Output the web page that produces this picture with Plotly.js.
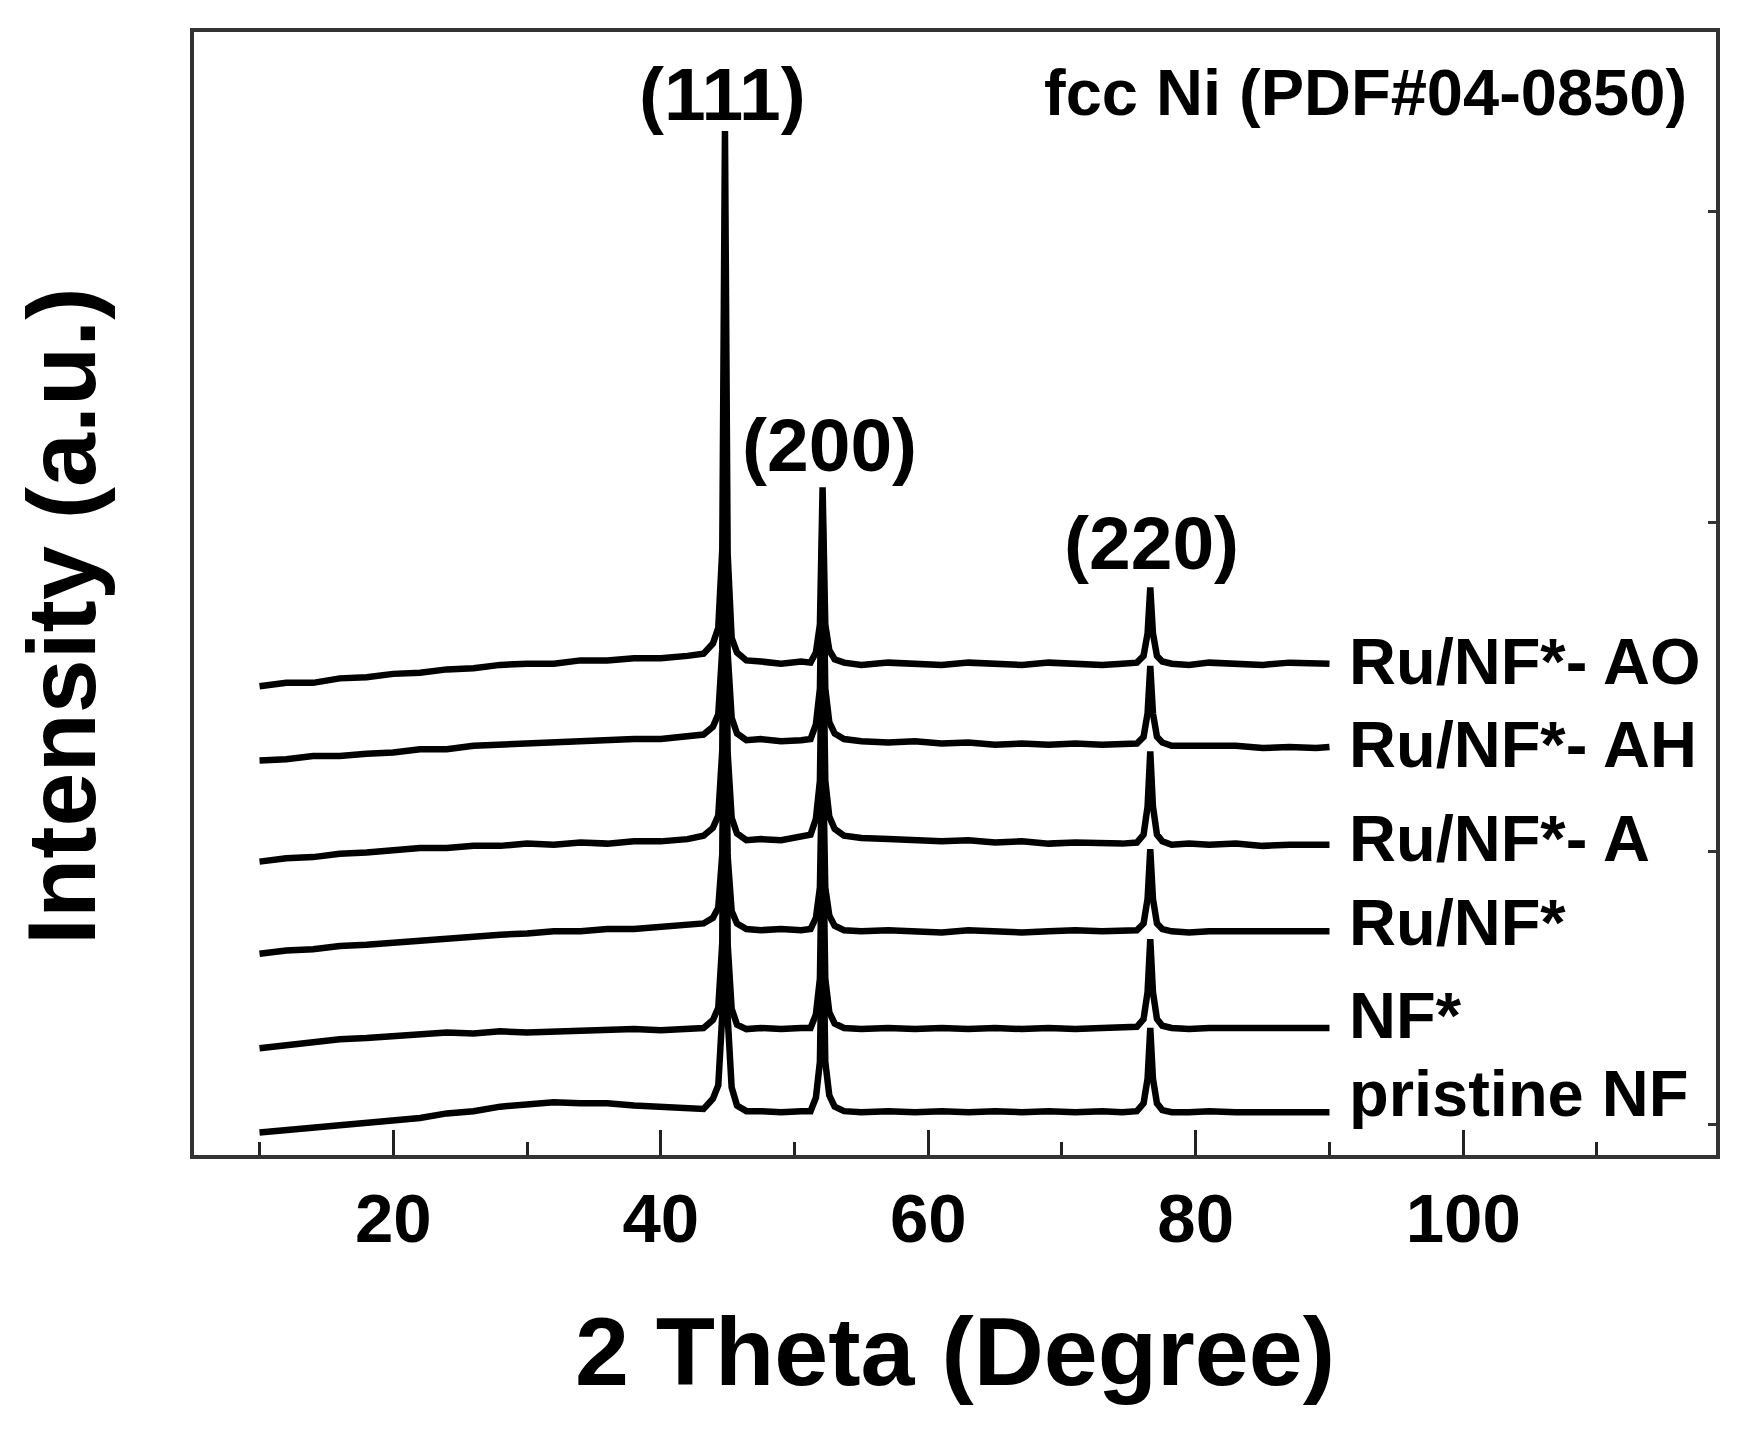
<!DOCTYPE html>
<html>
<head>
<meta charset="utf-8">
<script src="https://cdn.plot.ly/plotly-3.0.1.min.js"></script>
<style>
  html, body { margin: 0; padding: 0; background: #ffffff; }
  #chart { width: 1764px; height: 1436px; }
</style>
</head>
<body>
<div id="chart"></div>
<script>
// 2 Theta (degree) sample positions shared by all patterns
const twoTheta = [10,12,14,16,18,20,22,24,26,28,30,32,34,36,38,40,42,43.2,
  43.9,44.3,44.6,44.8,45.0,45.3,45.7,46.4,47.5,49,50.5,51.2,
  51.6,51.9,52.1,52.3,52.6,53.0,53.7,55,57,59,61,63,65,67,69,71,73,74.5,
  75.6,76.1,76.4,76.6,76.8,77.1,77.5,78.2,79.5,81,83,85,87,89,90];

// Intensities (a.u., stacked with offsets as in the figure)
const ruNfAO = [417,420,420,424,425,428,429,432,433,436,437,437,440,440,442,442,444,446,
  455,469,539,911,535,460,447,440,439,437,439,438,
  447,472,594,472,449,441,438,436,438,437,436,438,437,436,438,437,436,437,
  438,444,464,505,464,444,439,437,436,438,437,436,438,437,437];
const ruNfAH = [351,352,355,355,357,358,361,361,364,365,367,367,369,369,370,370,372,374,
  381,392,450,751,447,389,375,369,370,368,369,370,
  383,415,571,415,385,375,370,368,367,368,366,367,365,366,365,366,365,365,
  366,372,393,435,393,372,367,364,364,363,364,362,363,362,363];
const ruNfA = [261,264,265,268,269,271,273,273,275,275,277,276,278,277,279,279,281,284,
  291,302,360,663,358,300,286,280,281,280,283,285,
  299,333,500,333,301,290,284,282,281,280,279,280,278,279,277,278,277,277,
  278,285,310,359,310,285,279,276,277,276,277,275,276,276,276];
const ruNf = [179,182,183,186,187,189,191,193,194,196,197,199,199,201,201,203,204,206,
  211,220,268,523,266,217,206,201,200,201,200,201,
  211,238,371,238,213,204,200,199,200,199,198,200,199,198,199,200,199,199,
  200,206,228,272,228,206,201,199,198,199,199,198,199,198,199];
const nfStar = [95,98,100,103,104,106,107,109,108,110,109,110,111,111,112,111,112,113,
  120,131,189,494,188,130,116,112,113,112,113,113,
  125,157,313,157,127,117,113,112,113,112,113,112,113,112,113,112,113,113,
  114,121,145,192,145,121,115,113,112,113,113,112,113,112,113];
const pristineNF = [20,22,25,26,29,30,33,37,39,43,45,47,46,46,44,43,41,41,
  50,62,125,461,123,60,44,39,39,38,39,39,
  51,83,239,83,53,43,39,38,39,38,39,38,39,38,39,38,39,38,
  39,46,68,113,68,46,40,38,38,39,38,38,39,38,38];

const seriesNames = ["pristine NF", "NF*", "Ru/NF*", "Ru/NF*- A", "Ru/NF*- AH", "Ru/NF*- AO"];
const seriesData = [pristineNF, nfStar, ruNf, ruNfA, ruNfAH, ruNfAO];
// label heights (a.u.) next to the right end of each pattern
const seriesLabelY = [55, 124, 207, 282, 365, 439];

const peakLabels = ["(111)", "(200)", "(220)"];
const peakLabelX = [44.6, 52.6, 76.7];
const peakLabelY = [944, 632, 544];

const xMajorTicks = [20, 40, 60, 80, 100];
const xMinorTicks = [10, 30, 50, 70, 90, 110];
const yTickVals = [27, 270, 563, 839];

const FONT = "Liberation Sans, Arial, Helvetica, sans-serif";

const traces = seriesData.map((ys, i) => ({
  type: "scatter",
  mode: "lines",
  name: seriesNames[i],
  x: twoTheta,
  y: ys,
  line: { color: "#000000", width: 6.5 },
  showlegend: false,
  hoverinfo: "skip"
}));

const annotations = [];
seriesNames.forEach((name, i) => {
  annotations.push({
    x: 91.3, y: seriesLabelY[i], xref: "x", yref: "y",
    text: "<b>" + name + "</b>", showarrow: false,
    xanchor: "left", yanchor: "middle",
    font: { family: FONT, size: 65, color: "#000" }
  });
});
peakLabels.forEach((t, i) => {
  annotations.push({
    x: peakLabelX[i], y: peakLabelY[i], xref: "x", yref: "y",
    text: "<b>" + t + "</b>", showarrow: false,
    xanchor: "center", yanchor: "middle",
    font: { family: FONT, size: 75, color: "#000" }
  });
});
annotations.push({
  x: 116.85, y: 945, xref: "x", yref: "y",
  text: "<b>fcc Ni (PDF#04-0850)</b>", showarrow: false,
  xanchor: "right", yanchor: "middle",
  font: { family: FONT, size: 65, color: "#000" }
});

const W = 1764, H = 1436;
const M = { l: 194, r: 48, t: 32, b: 281 };
// y-axis title (left side), placed in paper coordinates
annotations.push({
  x: (61 - M.l) / (W - M.l - M.r), y: (H - M.b - 616) / (H - M.t - M.b),
  xref: "paper", yref: "paper",
  text: "<b>Intensity (a.u.)</b>", showarrow: false, textangle: -90,
  xanchor: "center", yanchor: "middle",
  font: { family: FONT, size: 97, color: "#000" }
});

const layout = {
  width: W, height: H,
  margin: M,
  paper_bgcolor: "#ffffff",
  plot_bgcolor: "#ffffff",
  showlegend: false,
  xaxis: {
    range: [5.1, 118.9],
    tickmode: "array",
    tickvals: xMajorTicks,
    ticks: "inside",
    ticklen: 25,
    tickwidth: 3,
    tickcolor: "#222",
    ticklabelstandoff: 0,
    minor: { tickmode: "array", tickvals: xMinorTicks, ticks: "inside", ticklen: 13, tickwidth: 3, tickcolor: "#222" },
    showline: true, mirror: true, linecolor: "#333", linewidth: 4,
    showgrid: false, zeroline: false,
    tickfont: { family: FONT, size: 69, color: "#000", weight: "bold" },
    title: { text: "<b>2 Theta (Degree)</b>", standoff: 62,
             font: { family: FONT, size: 97, color: "#000" } },
    automargin: false
  },
  yaxis: {
    range: [0, 999],
    side: "right",
    tickmode: "array",
    tickvals: yTickVals,
    ticks: "inside",
    ticklen: 8,
    tickwidth: 3,
    tickcolor: "#333",
    showticklabels: false,
    showline: true, mirror: true, linecolor: "#333", linewidth: 4,
    showgrid: false, zeroline: false,
    automargin: false
  },
  annotations: annotations
};

Plotly.newPlot("chart", traces, layout, { displayModeBar: false, staticPlot: true });
</script>
</body>
</html>
